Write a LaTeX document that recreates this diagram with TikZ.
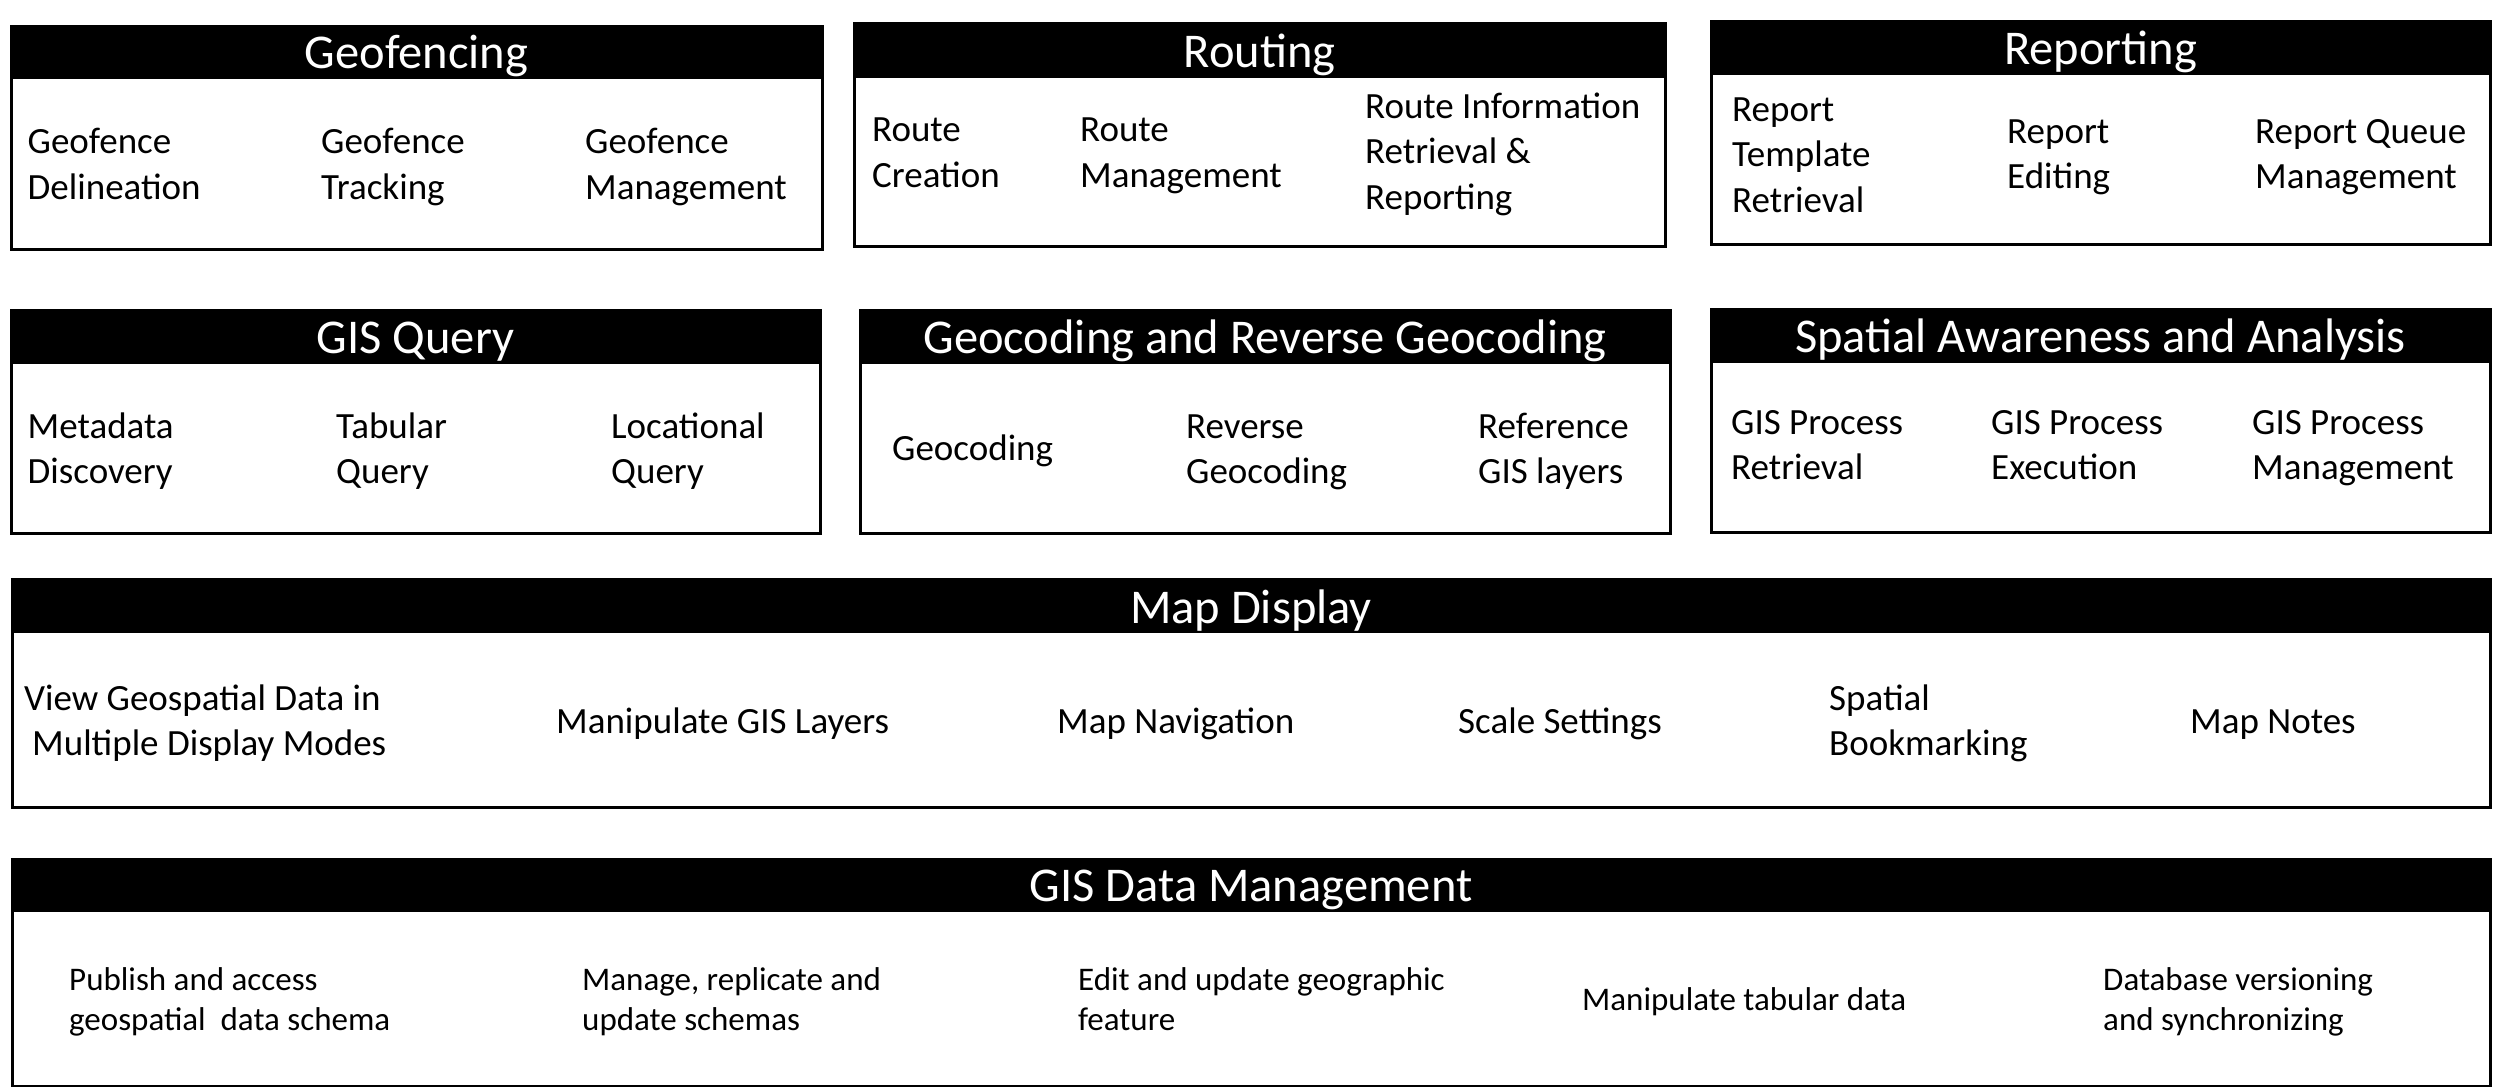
\documentclass[tikz,border=0pt]{standalone}
\usepackage{fontspec}
\setmainfont{Carlito}
\newcommand\twoln[2]{\vtop{\hbox{#1}\hbox{#2}}}
\newcommand\threeln[3]{\vtop{\hbox{#1}\hbox{#2}\hbox{#3}}}
\tikzset{
 panel/.style={draw=black, line width=3pt, anchor=north west, inner sep=0pt, fill=white},
 hdr/.style={draw=black, fill=black, line width=3pt, anchor=north west, inner sep=0pt},
 ttl/.style={text=white, anchor=base, inner sep=0pt, font=\fontsize{48.5}{58}\selectfont},
 item/.style={anchor=base west, inner sep=0pt, font=\fontsize{37}{45.5}\selectfont},
 smallitem/.style={anchor=base west, inner sep=0pt, font=\fontsize{33}{40}\selectfont},
}
\begin{document}
\begin{tikzpicture}[x=1pt,y=-1pt]
\useasboundingbox[fill=white] (0,0) rectangle (2493,1087);
% ---------- Geofencing
\node[panel, minimum width=811pt, minimum height=223pt] (geo) at (9.5,24.5) {};
\node[hdr, minimum width=811pt, minimum height=51.5pt] (geoh) at (geo.north west) {};
\node[ttl] (geot) at ([yshift=10.5pt]geoh.south) {Geofencing};
\node[item] (geo1) at (27.5,153.5) {\twoln{Geofence}{Delineation}};
\node[item] (geo2) at (321,153.5) {\twoln{Geofence}{Tracking}};
\node[item] (geo3) at (585,153.5) {\twoln{Geofence}{Management}};
% ---------- Routing
\node[panel, minimum width=811pt, minimum height=223pt] (rout) at (852.5,21.5) {};
\node[hdr, minimum width=811pt, minimum height=53pt] (routh) at (rout.north west) {};
\node[ttl] (routt) at ([yshift=10.5pt]routh.south) {Routing};
\node[item] (rout1) at (872,141.5) {\twoln{Route}{Creation}};
\node[item] (rout2) at (1080,141.5) {\twoln{Route}{Management}};
\node[item] (rout3) at (1365,118) {\threeln{Route Information}{Retrieval \&}{Reporting}};
% ---------- Reporting
\node[panel, minimum width=779pt, minimum height=223pt] (rep) at (1709.5,19.5) {};
\node[hdr, minimum width=779pt, minimum height=52pt] (reph) at (rep.north west) {};
\node[ttl] (rept) at ([yshift=10.5pt]reph.south) {Reporting};
\node[item] (rep1) at (1732,121) {\threeln{Report}{Template}{Retrieval}};
\node[item] (rep2) at (2007,143) {\twoln{Report}{Editing}};
\node[item] (rep3) at (2255,143) {\twoln{Report Queue}{Management}};
% ---------- GIS Query
\node[panel, minimum width=809pt, minimum height=223pt] (gq) at (9.5,308.5) {};
\node[hdr, minimum width=809pt, minimum height=52pt] (gqh) at (gq.north west) {};
\node[ttl] (gqt) at ([yshift=10.5pt]gqh.south) {GIS Query};
\node[item] (gq1) at (27.5,438) {\twoln{Metadata}{Discovery}};
\node[item] (gq2) at (336,438) {\twoln{Tabular}{Query}};
\node[item] (gq3) at (611,438) {\twoln{Locational}{Query}};
% ---------- Geocoding
\node[panel, minimum width=810pt, minimum height=223pt] (gc) at (858.5,308.5) {};
\node[hdr, minimum width=810pt, minimum height=52pt] (gch) at (gc.north west) {};
\node[ttl] (gct) at ([yshift=10.5pt]gch.south) {Geocoding and Reverse Geocoding};
\node[item] (gc1) at (892,460.5) {Geocoding};
\node[item] (gc2) at (1186,438) {\twoln{Reverse}{Geocoding}};
\node[item] (gc3) at (1478,438) {\twoln{Reference}{GIS layers}};
% ---------- Spatial Awareness
\node[panel, minimum width=779pt, minimum height=223pt] (sa) at (1709.5,307.5) {};
\node[hdr, minimum width=779pt, minimum height=52pt] (sah) at (sa.north west) {};
\node[ttl] (sat) at ([yshift=10.5pt]sah.south) {Spatial Awareness and Analysis};
\node[item] (sa1) at (1731,434) {\twoln{GIS Process}{Retrieval}};
\node[item] (sa2) at (1991,434) {\twoln{GIS Process}{Execution}};
\node[item] (sa3) at (2252,434) {\twoln{GIS Process}{Management}};
% ---------- Map Display
\node[panel, minimum width=2478pt, minimum height=228pt] (md) at (10.5,577.5) {};
\node[hdr, minimum width=2478pt, minimum height=52pt] (mdh) at (md.north west) {};
\node[ttl] (mdt) at ([yshift=9.5pt]mdh.south) {Map Display};
\node[item] (md1) at (24,710) {\twoln{View Geospatial Data in}{\kern8pt Multiple Display Modes}};
\node[item] (md2) at (556,733) {Manipulate GIS Layers};
\node[item] (md3) at (1057,733) {Map Navigation};
\node[item] (md4) at (1458,733) {Scale Settings};
\node[item] (md5) at (1829,710) {\twoln{Spatial}{Bookmarking}};
\node[item] (md6) at (2190,733) {Map Notes};
% ---------- GIS Data Management
\node[panel, minimum width=2478pt, minimum height=227pt] (dm) at (10.5,857.5) {};
\node[hdr, minimum width=2478pt, minimum height=51pt] (dmh) at (dm.north west) {};
\node[ttl] (dmt) at ([yshift=10.5pt]dmh.south) {GIS Data Management};
\node[smallitem] (dm1) at (69,990) {\twoln{Publish and access}{geospatial~ data schema}};
\node[smallitem] (dm2) at (582,990) {\twoln{Manage, replicate and}{update schemas}};
\node[smallitem] (dm3) at (1078,990) {\twoln{Edit and update geographic}{feature}};
\node[smallitem] (dm4) at (1582,1010) {Manipulate tabular data};
\node[smallitem] (dm5) at (2103,990) {\twoln{Database versioning}{and synchronizing}};
\end{tikzpicture}
\end{document}
